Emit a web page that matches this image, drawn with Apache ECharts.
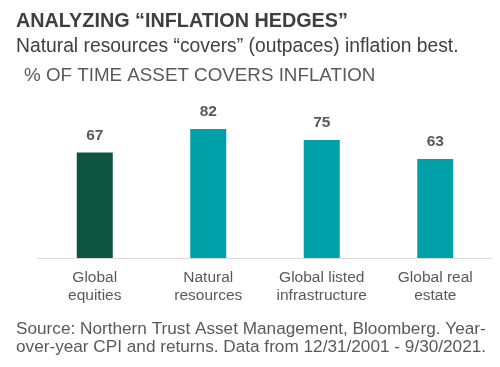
<!DOCTYPE html>
<html><head><meta charset="utf-8">
<script src="https://cdn.jsdelivr.net/npm/echarts@6/dist/echarts.min.js"></script>
<style>html,body{margin:0;padding:0;background:#fff}#c{width:500px;height:367px}</style>
</head><body><div id="c"></div>
<script>
const categories = ['Global\nequities', 'Natural\nresources', 'Global listed\ninfrastructure', 'Global real\nestate'];
const values = [67, 82, 75, 63];
const barColors = ['#0E5440', '#00A0A8', '#00A0A8', '#00A0A8'];

const chart = echarts.init(document.getElementById('c'), null, {renderer: 'canvas'});
const F = '"Liberation Sans", Arial, sans-serif';
chart.setOption({
  animation: false,
  backgroundColor: '#fff',
  title: [
    {text: 'ANALYZING \u201cINFLATION HEDGES\u201d', left: 16, top: 12, padding: 0,
     textStyle: {fontFamily: F, fontSize: 19.8, fontWeight: 'bold', color: '#3f3f3f'}},
    {text: 'Natural resources \u201ccovers\u201d (outpaces) inflation best.', left: 16, top: 37, padding: 0,
     textStyle: {fontFamily: F, fontSize: 19.3, fontWeight: 'normal', color: '#404040'}},
    {text: '% OF TIME ASSET COVERS INFLATION', left: 24, top: 66.5, padding: 0,
     textStyle: {fontFamily: F, fontSize: 18.8, fontWeight: 'normal', color: '#595959'}},
    {text: 'Source: Northern Trust Asset Management, Bloomberg. Year-\nover-year CPI and returns. Data from 12/31/2001 - 9/30/2021.', left: 16, top: 320, padding: 0,
     textStyle: {fontFamily: F, fontSize: 17.2, fontWeight: 'normal', color: '#595959', lineHeight: 18}}
  ],
  grid: {left: 38, right: 8, top: 100.7, bottom: 109, containLabel: false},
  xAxis: {
    type: 'category', data: categories,
    axisLine: {lineStyle: {color: '#d9d9d9', width: 1}},
    axisTick: {show: false},
    axisLabel: {fontFamily: F, fontSize: 15.5, color: '#595959', lineHeight: 18, margin: 11, interval: 0}
  },
  yAxis: {type: 'value', min: 0, max: 100, show: false, splitLine: {show: false}},
  series: [{
    type: 'bar', data: values.map((v, i) => ({value: v, itemStyle: {color: barColors[i]}})),
    barWidth: 36,
    label: {show: true, position: 'top', distance: 9, fontFamily: F, fontSize: 15.5, fontWeight: 'bold', color: '#595959'}
  }]
});
</script></body></html>
